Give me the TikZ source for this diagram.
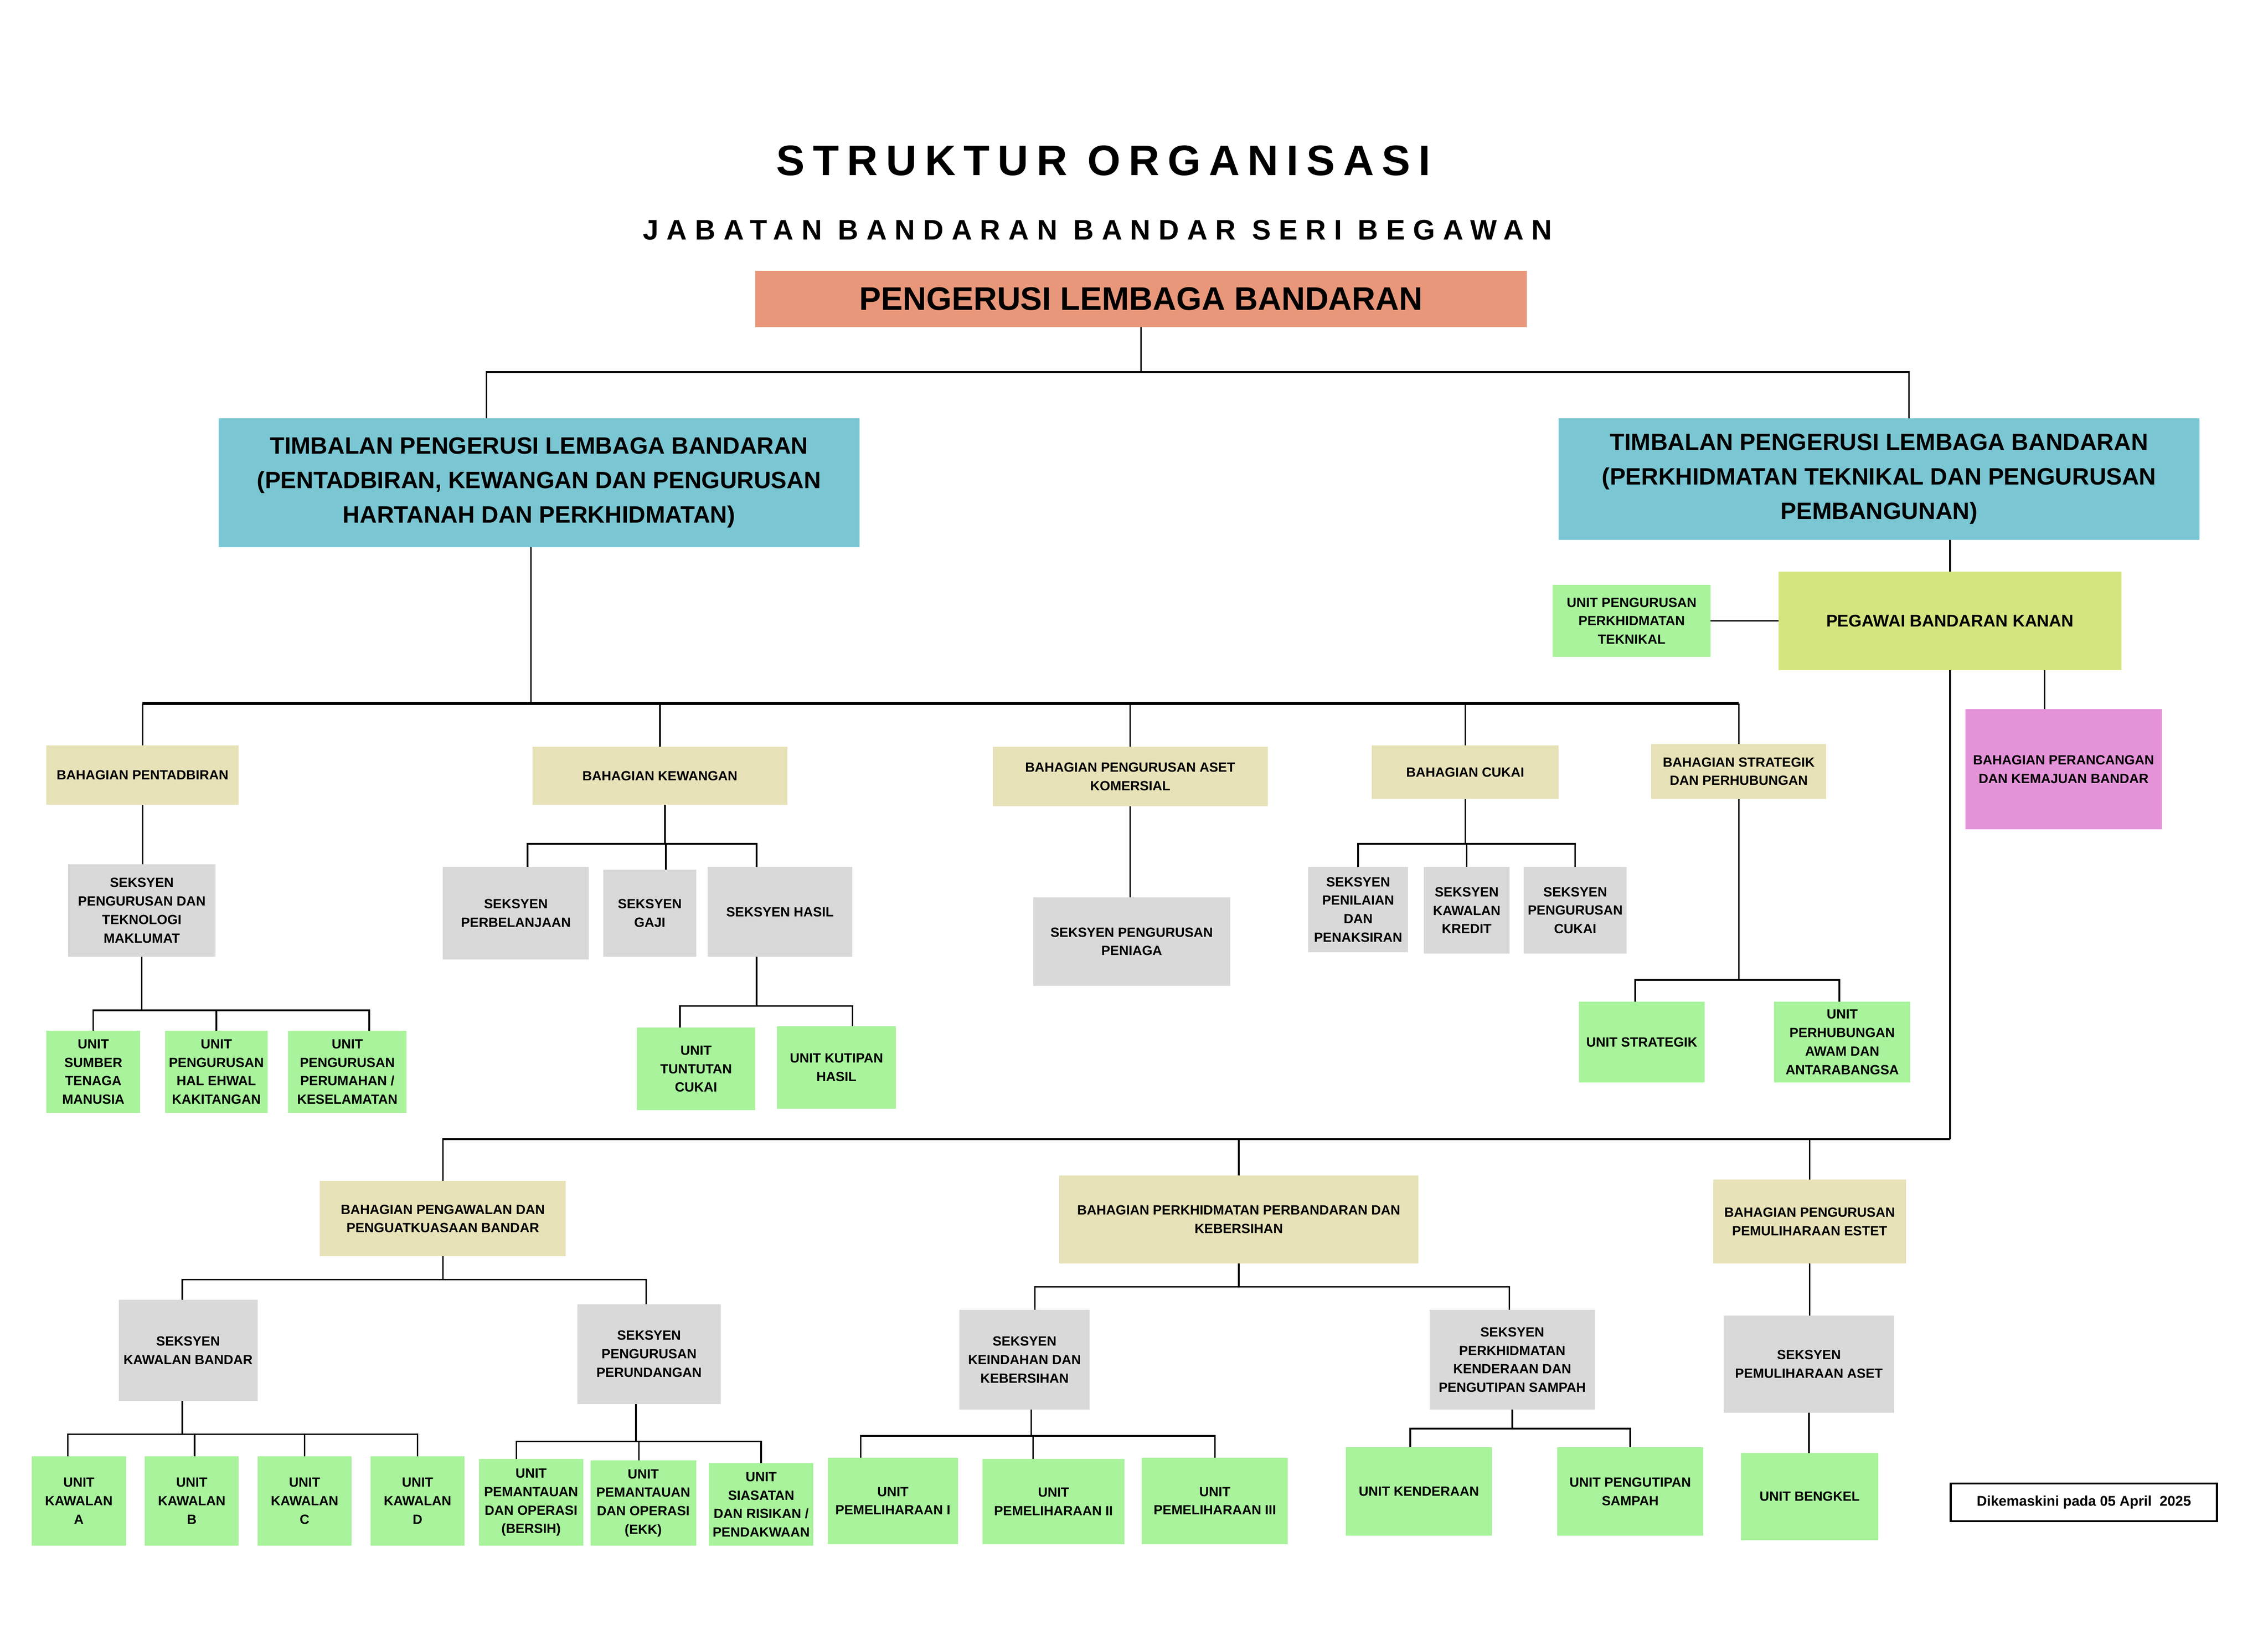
\documentclass[tikz,border=0pt]{standalone}
\usepackage{fontspec}
\setmainfont{Liberation Sans}
\usetikzlibrary{positioning}

\definecolor{salmon}{HTML}{E9977A}
\definecolor{biru}{HTML}{7BC6D3}
\definecolor{krim}{HTML}{E7E2B8}
\definecolor{kelabu}{HTML}{D9D9D9}
\definecolor{hijau}{HTML}{A8F39B}
\definecolor{kuning}{HTML}{D4E57F}
\definecolor{jambu}{HTML}{E493D9}

% kotak{style}{name}{x1}{y1}{x2}{y2}{text}
\newcommand{\kotak}[7]{\node[#1, minimum width={(#5-#3)*0.0198cm}, minimum height={(#6-#4)*0.0198cm}] (#2) at ({(#3+#5)/2},{(#4+#6)/2}) {#7};}

\begin{document}
\begin{tikzpicture}[x=0.0198cm, y=-0.0198cm,
		kotakasas/.style={rectangle, inner sep=0.5pt, outer sep=0pt, align=center, font=\fontsize{5.2}{7.2}\selectfont\bfseries},
		ketua/.style={kotakasas, fill=salmon, font=\fontsize{12.7}{15}\selectfont\bfseries},
		timbalan/.style={kotakasas, fill=biru, font=\fontsize{9.2}{13.4}\selectfont\bfseries},
		kanan/.style={kotakasas, fill=kuning, font=\fontsize{6.6}{8}\selectfont\bfseries},
		bahagian/.style={kotakasas, fill=krim},
		rancang/.style={kotakasas, fill=jambu},
		seksyen/.style={kotakasas, fill=kelabu},
		unit/.style={kotakasas, fill=hijau},
		garis/.style={black, line width=0.6pt}]
		\fill[white] (0cm,0cm) rectangle (31.04cm,-22.574cm);
		\useasboundingbox (0cm,0cm) rectangle (31.04cm,-22.574cm);

		\node[font=\fontsize{16.6}{18}\selectfont\bfseries\addfontfeature{LetterSpace=19}] (judul) at (762.5,111) {STRUKTUR ORGANISASI};
		\node[font=\fontsize{11}{13}\selectfont\bfseries\addfontfeature{LetterSpace=28.5}] (subjudul) at (758.5,159) {JABATAN BANDARAN BANDAR SERI BEGAWAN};

		\kotak{ketua}{pengerusi}{522}{187}{1055}{226}{PENGERUSI LEMBAGA BANDARAN}
		\kotak{timbalan}{timbalanKiri}{151}{289}{594}{378}{TIMBALAN PENGERUSI LEMBAGA BANDARAN\\(PENTADBIRAN, KEWANGAN DAN PENGURUSAN\\HARTANAH DAN PERKHIDMATAN)}
		\kotak{timbalan}{timbalanKanan}{1077}{289}{1520}{373}{TIMBALAN PENGERUSI LEMBAGA BANDARAN\\(PERKHIDMATAN TEKNIKAL DAN PENGURUSAN\\PEMBANGUNAN)}

		\kotak{kanan}{pegawai}{1229}{395}{1466}{463}{PEGAWAI BANDARAN KANAN}
		\kotak{unit}{unitTeknikal}{1073}{404}{1182}{454}{UNIT PENGURUSAN\\PERKHIDMATAN\\TEKNIKAL}
		\kotak{rancang}{perancangan}{1358}{490}{1494}{573}{BAHAGIAN PERANCANGAN\\DAN KEMAJUAN BANDAR}

		\kotak{bahagian}{pentadbiran}{32}{515}{165}{556}{BAHAGIAN PENTADBIRAN}
		\kotak{bahagian}{kewangan}{368}{516}{544}{556}{BAHAGIAN KEWANGAN}
		\kotak{bahagian}{asetKomersial}{686}{516}{876}{557}{BAHAGIAN PENGURUSAN ASET\\KOMERSIAL}
		\kotak{bahagian}{cukai}{948}{515}{1077}{552}{BAHAGIAN CUKAI}
		\kotak{bahagian}{strategik}{1141}{514}{1262}{552}{BAHAGIAN STRATEGIK\\DAN PERHUBUNGAN}

		\kotak{seksyen}{sekTeknologi}{47}{597}{149}{661}{SEKSYEN\\PENGURUSAN DAN\\TEKNOLOGI\\MAKLUMAT}
		\kotak{unit}{unitSumber}{32}{712}{97}{769}{UNIT\\SUMBER\\TENAGA\\MANUSIA}
		\kotak{unit}{unitHalEhwal}{114}{712}{185}{769}{UNIT\\PENGURUSAN\\HAL EHWAL\\KAKITANGAN}
		\kotak{unit}{unitPerumahan}{199}{712}{281}{769}{UNIT\\PENGURUSAN\\PERUMAHAN /\\KESELAMATAN}

		\kotak{seksyen}{sekBelanja}{306}{599}{407}{663}{SEKSYEN\\PERBELANJAAN}
		\kotak{seksyen}{sekGaji}{417}{601}{481}{661}{SEKSYEN\\GAJI}
		\kotak{seksyen}{sekHasil}{489}{599}{589}{661}{SEKSYEN HASIL}
		\kotak{unit}{unitTuntutan}{440}{710}{522}{767}{UNIT\\TUNTUTAN\\CUKAI}
		\kotak{unit}{unitKutipan}{537}{709}{619}{766}{UNIT KUTIPAN\\HASIL}

		\kotak{seksyen}{sekPeniaga}{714}{620}{850}{681}{SEKSYEN PENGURUSAN\\PENIAGA}

		\kotak{seksyen}{sekPenilaian}{904}{599}{973}{658}{SEKSYEN\\PENILAIAN\\DAN\\PENAKSIRAN}
		\kotak{seksyen}{sekKredit}{984}{599}{1043}{659}{SEKSYEN\\KAWALAN\\KREDIT}
		\kotak{seksyen}{sekUrusCukai}{1053}{599}{1124}{659}{SEKSYEN\\PENGURUSAN\\CUKAI}

		\kotak{unit}{unitStrategik}{1091}{692}{1178}{748}{UNIT STRATEGIK}
		\kotak{unit}{unitPerhubungan}{1226}{692}{1320}{748}{UNIT\\PERHUBUNGAN\\AWAM DAN\\ANTARABANGSA}

		\kotak{bahagian}{pengawalan}{221}{816}{391}{868}{BAHAGIAN PENGAWALAN DAN\\PENGUATKUASAAN BANDAR}
		\kotak{bahagian}{perbandaran}{732}{812}{980}{873}{BAHAGIAN PERKHIDMATAN PERBANDARAN DAN\\KEBERSIHAN}
		\kotak{bahagian}{estet}{1184}{815}{1317}{873}{BAHAGIAN PENGURUSAN\\PEMULIHARAAN ESTET}

		\kotak{seksyen}{sekKawalan}{82}{898}{178}{968}{SEKSYEN\\KAWALAN BANDAR}
		\kotak{seksyen}{sekPerundangan}{399}{901}{498}{970}{SEKSYEN\\PENGURUSAN\\PERUNDANGAN}
		\kotak{unit}{unitKawalanA}{22}{1006}{87}{1068}{UNIT\\KAWALAN\\A}
		\kotak{unit}{unitKawalanB}{100}{1006}{165}{1068}{UNIT\\KAWALAN\\B}
		\kotak{unit}{unitKawalanC}{178}{1006}{243}{1068}{UNIT\\KAWALAN\\C}
		\kotak{unit}{unitKawalanD}{256}{1006}{321}{1068}{UNIT\\KAWALAN\\D}
		\kotak{unit}{unitBersih}{331}{1008}{403}{1068}{UNIT\\PEMANTAUAN\\DAN OPERASI\\(BERSIH)}
		\kotak{unit}{unitEKK}{408}{1009}{481}{1068}{UNIT\\PEMANTAUAN\\DAN OPERASI\\(EKK)}
		\kotak{unit}{unitSiasatan}{490}{1011}{562}{1068}{UNIT\\SIASATAN\\DAN RISIKAN /\\PENDAKWAAN}

		\kotak{seksyen}{sekKeindahan}{663}{905}{753}{974}{SEKSYEN\\KEINDAHAN DAN\\KEBERSIHAN}
		\kotak{seksyen}{sekKenderaan}{988}{905}{1102}{974}{SEKSYEN\\PERKHIDMATAN\\KENDERAAN DAN\\PENGUTIPAN SAMPAH}
		\kotak{unit}{unitPelihara1}{572}{1007}{662}{1067}{UNIT\\PEMELIHARAAN I}
		\kotak{unit}{unitPelihara2}{679}{1008}{777}{1067}{UNIT\\PEMELIHARAAN II}
		\kotak{unit}{unitPelihara3}{789}{1007}{890}{1067}{UNIT\\PEMELIHARAAN III}
		\kotak{unit}{unitKenderaan}{930}{1000}{1031}{1061}{UNIT KENDERAAN}
		\kotak{unit}{unitSampah}{1076}{1000}{1177}{1061}{UNIT PENGUTIPAN\\SAMPAH}

		\kotak{seksyen}{sekAset}{1191}{909}{1309}{976}{SEKSYEN\\PEMULIHARAAN ASET}
		\kotak{unit}{unitBengkel}{1203}{1004}{1298}{1064}{UNIT BENGKEL}

		\kotak{kotakasas, draw=black, line width=0.8pt, fill=white, font=\fontsize{5.5}{7}\selectfont\bfseries}{nota}{1348}{1025}{1532}{1051}{Dikemaskini pada 05 April\ \ 2025}

		% pengerusi dan timbalan
		\draw[garis] (pengerusi.south) -- ++(0,31) coordinate (busAtas);
		\draw[garis] (busAtas) -| ([xshift=-0.72cm]timbalanKiri.north);
		\draw[garis] (busAtas) -| ([xshift=0.41cm]timbalanKanan.north);

		% timbalan kiri
		\draw[garis] ([xshift=-0.11cm]timbalanKiri.south) -- ++(0,108) coordinate (busKiri);
		\draw[garis, line width=1.1pt] (pentadbiran.north |- busKiri) -- (strategik.north |- busKiri);
		\foreach \anak in {pentadbiran,kewangan,asetKomersial,cukai,strategik}
			\draw[garis] (\anak.north |- busKiri) -- (\anak.north);

		\draw[garis] (pentadbiran.south) -- (pentadbiran.south |- sekTeknologi.north);
		\draw[garis] (sekTeknologi.south) -- ++(0,37) coordinate (busTeknologi);
		\foreach \anak/\geser in {unitSumber/0,unitHalEhwal/0,unitPerumahan/0.3}
			\draw[garis] (busTeknologi) -| ([xshift=\geser cm]\anak.north);

		\draw[garis] ([xshift=0.07cm]kewangan.south) -- ++(0,27) coordinate (busKewangan);
		\foreach \anak/\geser in {sekBelanja/0.16,sekGaji/0.22,sekHasil/-0.32}
			\draw[garis] (busKewangan) -| ([xshift=\geser cm]\anak.north);
		\draw[garis] ([xshift=-0.32cm]sekHasil.south) -- ++(0,34) coordinate (busHasil);
		\foreach \anak/\geser in {unitTuntutan/-0.22,unitKutipan/0.22}
			\draw[garis] (busHasil) -| ([xshift=\geser cm]\anak.north);

		\draw[garis] (asetKomersial.south) -- (asetKomersial.south |- sekPeniaga.north);

		\draw[garis] (cukai.south) -- ++(0,31) coordinate (busCukai);
		\foreach \anak in {sekPenilaian,sekKredit,sekUrusCukai}
			\draw[garis] (busCukai) -| (\anak.north);

		\draw[garis] (strategik.south) -- ++(0,125) coordinate (busStrategik);
		\foreach \anak/\geser in {unitStrategik/-0.09,unitPerhubungan/-0.04}
			\draw[garis] (busStrategik) -| ([xshift=\geser cm]\anak.north);

		% timbalan kanan
		\draw[garis] (pegawai.north) -- (pegawai.north |- timbalanKanan.south);
		\draw[garis] (unitTeknikal.east) -- (pegawai.west);
		\draw[garis] ([xshift=-0.26cm]perancangan.north) -- ++(0,-27);
		\draw[garis] (pegawai.south) -- ++(0,324) coordinate (busBawah);
		\foreach \anak in {pengawalan,perbandaran,estet}
			\draw[garis] (busBawah) -| (\anak.north);

		\draw[garis] (pengawalan.south) -- ++(0,16) coordinate (busPengawalan);
		\foreach \anak/\geser in {sekKawalan/-0.08,sekPerundangan/-0.04}
			\draw[garis] (busPengawalan) -| ([xshift=\geser cm]\anak.north);
		\draw[garis] ([xshift=-0.08cm]sekKawalan.south) -- ++(0,23) coordinate (busKawalan);
		\foreach \anak/\geser in {unitKawalanA/-0.15,unitKawalanB/0.04,unitKawalanC/0,unitKawalanD/0}
			\draw[garis] (busKawalan) -| ([xshift=\geser cm]\anak.north);
		\draw[garis] ([xshift=-0.18cm]sekPerundangan.south) -- ++(0,26) coordinate (busPerundangan);
		\foreach \anak/\geser in {unitBersih/-0.2,unitEKK/-0.06,unitSiasatan/0}
			\draw[garis] (busPerundangan) -| ([xshift=\geser cm]\anak.north);

		\draw[garis] (perbandaran.south) -- ++(0,16) coordinate (busPerbandaran);
		\foreach \anak/\geser in {sekKeindahan/0.14,sekKenderaan/-0.04}
			\draw[garis] (busPerbandaran) -| ([xshift=\geser cm]\anak.north);
		\draw[garis] ([xshift=0.09cm]sekKeindahan.south) -- ++(0,18) coordinate (busKeindahan);
		\foreach \anak/\geser in {unitPelihara1/-0.44,unitPelihara2/-0.28,unitPelihara3/0}
			\draw[garis] (busKeindahan) -| ([xshift=\geser cm]\anak.north);
		\draw[garis] (sekKenderaan.south) -- ++(0,13) coordinate (busKenderaan);
		\foreach \anak/\geser in {unitKenderaan/-0.12,unitSampah/0}
			\draw[garis] (busKenderaan) -| ([xshift=\geser cm]\anak.north);

		\draw[garis] (estet.south) -- (estet.south |- sekAset.north);
		\draw[garis] (sekAset.south) -- (sekAset.south |- unitBengkel.north);
		\end{tikzpicture}
\end{document}
